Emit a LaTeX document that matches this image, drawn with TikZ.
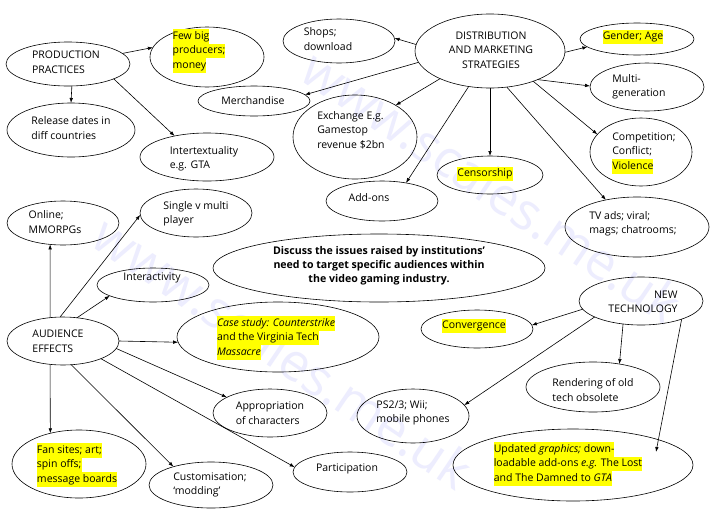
\documentclass[tikz,border=0pt]{standalone}
\usepackage{fontspec}
\setmainfont{Open Sans}
\usetikzlibrary{arrows.meta,shapes.geometric}
\definecolor{wm}{RGB}{237,237,254}
\definecolor{hly}{RGB}{255,255,0}
\newcommand\hlt[1]{{\setlength{\fboxsep}{0pt}\colorbox{hly}{\strut #1}}}
\begin{document}
\begin{tikzpicture}[x=1pt,y=-1pt,
 ell/.style={draw, ellipse, line width=0.6pt, inner sep=0pt, outer sep=0pt},
 txt/.style={align=left, inner sep=0pt, font=\fontsize{10.5}{14.5}\selectfont},
 arr/.style={-{Latex[length=5pt,width=3.6pt]}, line width=0.6pt},
 wmk/.style={text=wm, font=\fontsize{52}{60}\selectfont, rotate=-34}]
\fill[white] (0,0) rectangle (714,517);
\useasboundingbox (0,0) rectangle (714,517);
% watermark
\node[wmk] (wm1) at (492,186) {www.scales.me.uk};
\node[wmk] (wm2) at (283,352) {www.scales.me.uk};
% ellipses
\node[ell, minimum width=124pt, minimum height=44pt] (prod) at (68,64) {};
\node[ell, minimum width=114pt, minimum height=60pt] (few) at (207,57) {};
\node[ell, minimum width=128pt, minimum height=54pt] (rel) at (71,130) {};
\node[ell, minimum width=134pt, minimum height=48pt] (inter) at (207,157) {};
\node[ell, minimum width=112pt, minimum height=44pt] (shops) at (339,41) {};
\node[ell, minimum width=150pt, minimum height=74pt] (dist) at (490,51) {};
\node[ell, minimum width=112pt, minimum height=30pt] (merch) at (254,101) {};
\node[ell, minimum width=124pt, minimum height=84pt] (exch) at (355,137) {};
\node[ell, minimum width=112pt, minimum height=40pt] (addons) at (382,201) {};
\node[ell, minimum width=106pt, minimum height=38pt] (cens) at (490,175) {};
\node[ell, minimum width=114pt, minimum height=32pt] (gender) at (637,39) {};
\node[ell, minimum width=114pt, minimum height=48pt] (multi) at (647,87) {};
\node[ell, minimum width=102pt, minimum height=68pt] (comp) at (641,152) {};
\node[ell, minimum width=144pt, minimum height=60pt] (tv) at (637,227) {};
\node[ell, minimum width=112pt, minimum height=44pt] (online) at (63,223) {};
\node[ell, minimum width=112pt, minimum height=48pt] (single) at (196,213) {};
\node[ell, minimum width=332pt, minimum height=68pt] (disc) at (379,268) {};
\node[ell, minimum width=112pt, minimum height=34pt] (inter2) at (153,285) {};
\node[ell, minimum width=112pt, minimum height=48pt] (aud) at (63,341) {};
\node[ell, minimum width=202pt, minimum height=70pt] (case) at (278,337) {};
\node[ell, minimum width=114pt, minimum height=48pt] (appr) at (270,413) {};
\node[ell, minimum width=134pt, minimum height=68pt] (fan) at (79,464) {};
\node[ell, minimum width=124pt, minimum height=46pt] (cust) at (211,485) {};
\node[ell, minimum width=114pt, minimum height=40pt] (part) at (350,472) {};
\node[ell, minimum width=112pt, minimum height=38pt] (conv) at (477,329) {};
\node[ell, minimum width=124pt, minimum height=48pt] (nt) at (641,301) {};
\node[ell, minimum width=134pt, minimum height=50pt] (rend) at (593,387) {};
\node[ell, minimum width=112pt, minimum height=54pt] (ps) at (413,416) {};
\node[ell, minimum width=240pt, minimum height=72pt] (upd) at (573,465) {};
% texts
\node[txt] (tprod) at (66,62) {PRODUCTION\\PRACTICES};
\node[txt] (tfew) at (199,51) {\hlt{Few big}\\\hlt{producers;}\\\hlt{money}};
\node[txt] (trel) at (71,128) {Release dates in\\diff countries};
\node[txt] (tint) at (204,159) {Intertextuality\\e.g. GTA};
\node[txt] (tshop) at (328,39) {Shops;\\download};
\node[txt, align=center] (tdist) at (491,50) {DISTRIBUTION\\AND MARKETING\\STRATEGIES};
\node[txt] (tmer) at (253,101) {Merchandise};
\node[txt] (texch) at (351,130) {Exchange E.g.\\Gamestop\\revenue \$2bn};
\node[txt] (tadd) at (369,198) {Add-ons};
\node[txt] (tcen) at (485,174) {\hlt{Censorship}};
\node[txt] (tgen) at (633,37) {\hlt{Gender; Age}};
\node[txt] (tmul) at (639,87) {Multi-\\generation};
\node[txt] (tcom) at (644,153) {Competition;\\Conflict;\\\hlt{Violence}};
\node[txt] (ttv) at (633,224) {TV ads; viral;\\mags; chatrooms;};
\node[txt] (tonl) at (55,222) {Online;\\MMORPGs};
\node[txt] (tsin) at (196,214) {Single v multi\\player};
\node[txt, align=center, font=\bfseries\fontsize{10.6}{14}\selectfont] (tdisc) at (379,266) {Discuss the issues raised by institutions'\\need to target specific audiences within\\the video gaming industry.};
\node[txt] (tinter) at (152,278) {Interactivity};
\node[txt] (taud) at (58,341) {AUDIENCE\\EFFECTS};
\node[txt] (tcase) at (276,338) {\hlt{\textit{Case study: Counterstrike}}\\\hlt{and the Virginia Tech}\\\hlt{\textit{Massacre}}};
\node[txt] (tapp) at (270,413) {Appropriation\\of characters};
\node[txt] (tfan) at (77,465) {\hlt{Fan sites; art;}\\\hlt{spin offs;}\\\hlt{message boards}};
\node[txt] (tcus) at (210,485) {Customisation;\\`modding'};
\node[txt] (tpar) at (347,469) {Participation};
\node[txt] (tcon) at (474,326) {\hlt{Convergence}};
\node[txt, align=right] (tnt) at (643,302) {NEW\\TECHNOLOGY};
\node[txt] (tren) at (593,390) {Rendering of old\\tech obsolete};
\node[txt] (tps) at (413,413) {PS2/3; Wii;\\mobile phones};
\node[txt] (tupd) at (568,464) {\hlt{Updated \textit{graphics;} down-}\\\hlt{loadable add-ons \textit{e.g.} The Lost}\\\hlt{and The Damned to \textit{GTA}}};
% connectors
\draw[arr] (prod.11) -- (few.170);
\draw[arr] (prod.-80) -- (rel.90);
\draw[arr] (prod.-18) -- (inter.147);
\draw[arr] (dist.175) -- (shops.3);
\draw[arr] (dist.189) -- (merch.7);
\draw[arr] (dist.209) -- (exch.38);
\draw[arr] (dist.239) -- (addons.37);
\draw[arr] (dist.-90) -- (cens.90);
\draw[arr] (dist.-65) -- (tv.139);
\draw[arr] (dist.-35) -- (comp.158);
\draw[arr] (dist.-31) -- (multi.179);
\draw[arr] (dist.-1.5) -- (gender.189);
\draw[arr] (aud.119) -- (online.239);
\draw[arr] (aud.97) -- (single.182);
\draw[arr] (aud.59) -- (inter2.194);
\draw[arr] (aud.0) -- (case.183);
\draw[arr] (aud.-8) -- (appr.160);
\draw[arr] (aud.-25) -- (part.175);
\draw[arr] (aud.-71) -- (cust.154);
\draw[arr] (aud.241) -- (fan.133);
\draw[arr] (nt.188) -- (conv.4);
\draw[arr] (nt.199) -- (ps.12);
\draw[arr] (nt.232) -- (rend.41);
\coordinate (updtip) at (656,452);
\draw[arr] (nt.-24) -- (updtip);
\end{tikzpicture}
\end{document}
